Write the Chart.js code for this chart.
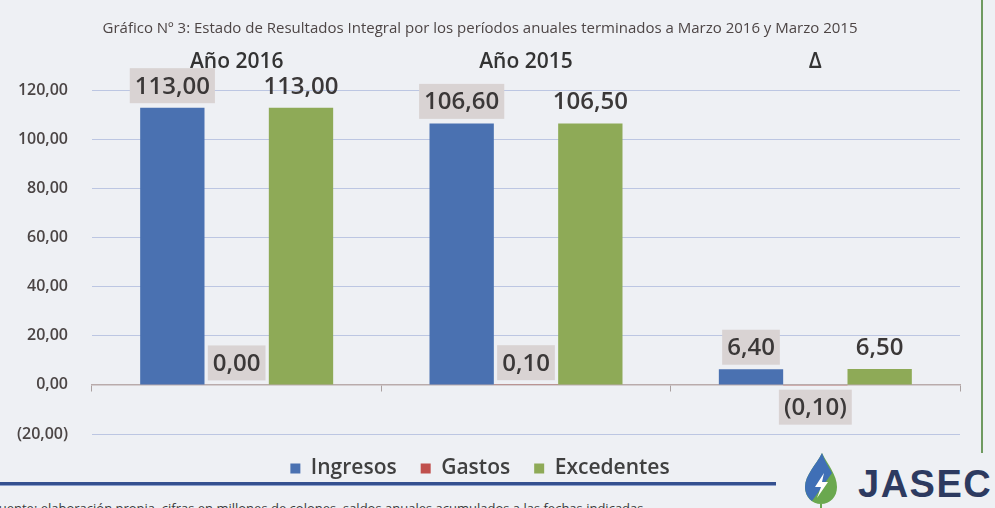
<!DOCTYPE html>
<html>
<head>
<meta charset="utf-8">
<script src="https://cdn.jsdelivr.net/npm/chart.js@4/dist/chart.umd.min.js"></script>
<style>
  html, body { margin: 0; padding: 0; }
  body { width: 995px; height: 508px; overflow: hidden; background: #eef0f4; position: relative; font-family: "Open Sans", sans-serif; }
  #wrap { position: absolute; left: 0; top: 0; width: 995px; height: 508px; }
  canvas { position: absolute; left: 0; top: 0; z-index: 2; }
  .deco { position: absolute; z-index: 1; }
  #blueLine { left: 0; top: 482px; width: 776px; height: 3px; background: #34508f; border-bottom: 1px solid #8da0cc; }
  #greenLine { left: 981px; top: 0; width: 2px; height: 453px; background: #6f9a60; }
  #foot { left: -8px; top: 499px; font-size: 13px; color: #3a3a3a; white-space: nowrap; }
  #logo { left: 802px; top: 451px; width: 38px; height: 57px; }
  #jasec { left: 858px; top: 465px; font-family: "Liberation Sans", Arial, sans-serif; font-weight: bold; font-size: 38px; line-height: 38px; letter-spacing: 1.5px; color: #2d3a60; white-space: nowrap; }
</style>
</head>
<body>
<div id="wrap">
  <canvas id="c" width="995" height="508"></canvas>
  <div class="deco" id="blueLine"></div>
  <div class="deco" id="greenLine"></div>
  <div class="deco" id="foot">Fuente: elaboración propia, cifras en millones de colones, saldos anuales acumulados a las fechas indicadas</div>
  <svg class="deco" id="logo" viewBox="0 0 38 57">
    <path d="M20 2 C14 14 3 24 3 36 C3 46 10 53 19 53 C28 53 35 46 35 36 C35 24 26 14 20 2 Z" fill="#6aa84f"/>
    <path d="M20 2 C14 14 3 24 3 36 C3 42 6 47 10 50 L30 22 C26 15 22 8 20 2 Z" fill="#3f6fb6"/>
    <path d="M22 22 L13 36 L19 36 L15 47 L26 31 L20 31 Z" fill="#ffffff"/>
    <path d="M19 53 L19 57" stroke="#6aa84f" stroke-width="2"/>
  </svg>
  <div class="deco" id="jasec">JASEC</div>
</div>
<script>
const categories = ["Año 2016", "Año 2015", "Δ"];
const ingresos = [113.00, 106.60, 6.40];
const gastos = [0.00, 0.10, -0.10];
const excedentes = [113.00, 106.50, 6.50];
const seriesNames = ["Ingresos", "Gastos", "Excedentes"];
const yTicks = [-20, 0, 20, 40, 60, 80, 100, 120];
const titleText = "Gráfico Nº 3: Estado de Resultados Integral por los períodos anuales terminados a Marzo 2016 y Marzo 2015";

function fmt(v) {
  const s = Math.abs(v).toFixed(2).replace('.', ',');
  return v < 0 ? '(' + s + ')' : s;
}

const valueLabels = {
  id: 'valueLabels',
  afterDatasetsDraw(chart, args, opts) {
    const ctx = chart.ctx;
    chart.data.datasets.forEach((ds, di) => {
      const meta = chart.getDatasetMeta(di);
      meta.data.forEach((bar, i) => {
        const v = ds.data[i];
        const txt = fmt(v);
        ctx.save();
        ctx.font = '600 24px "Open Sans"';
        const w = ctx.measureText(txt).width;
        const cy = v >= 0 ? bar.y - 22 : bar.y + 22;
        if (opts.boxed[di]) {
          ctx.fillStyle = '#d9d3d3';
          ctx.fillRect(bar.x - w / 2 - 5, cy - 17.5, w + 10, 35);
        }
        ctx.fillStyle = '#3b3838';
        ctx.textAlign = 'center';
        ctx.textBaseline = 'middle';
        ctx.fillText(txt, bar.x, cy + 1);
        ctx.restore();
      });
    });
  }
};

new Chart(document.getElementById('c'), {
  type: 'bar',
  data: {
    labels: categories,
    datasets: [
      { label: seriesNames[0], data: ingresos, backgroundColor: '#4a71b1', borderWidth: 0 },
      { label: seriesNames[1], data: gastos, backgroundColor: '#c0504d', borderWidth: 0 },
      { label: seriesNames[2], data: excedentes, backgroundColor: '#8eaa57', borderWidth: 0 }
    ]
  },
  options: {
    responsive: false,
    devicePixelRatio: 1,
    animation: false,
    layout: { padding: { left: 0, right: 35, top: 0, bottom: 19 } },
    datasets: { bar: { barPercentage: 1.0, categoryPercentage: 0.667 } },
    scales: {
      x: {
        position: 'top',
        grid: { display: false },
        border: { display: false },
        ticks: { color: '#333333', font: { family: 'Open Sans', size: 21, weight: '600' }, padding: 8 },
        afterFit(scale) { scale.height = 52.5; }
      },
      x2: {
        type: 'category',
        axis: 'x',
        position: { y: 0 },
        offset: true,
        grid: { offset: true, drawOnChartArea: false, drawTicks: true, tickLength: 6, color: '#aaa0a0' },
        border: { display: true, color: '#b9abab', width: 1.5 },
        ticks: { display: false }
      },
      y: {
        min: -20,
        max: 120,
        afterBuildTicks(scale) { scale.ticks = yTicks.map(v => ({ value: v })); },
        grid: { color: '#bcc6e2', lineWidth: 1, drawTicks: false },
        border: { display: false },
        ticks: {
          color: '#4b4545',
          font: { family: 'Open Sans', size: 16, weight: '600' },
          padding: 24,
          callback: (v) => fmt(v)
        },
        afterFit(scale) { scale.width = 92; }
      }
    },
    plugins: {
      title: {
        display: true,
        text: titleText,
        color: '#4d4545',
        font: { family: 'Open Sans', size: 15, weight: 'normal' },
        padding: { top: 20, bottom: 0 }
      },
      legend: {
        position: 'bottom',
        labels: {
          color: '#404040',
          font: { family: 'Open Sans', size: 21, weight: '600' },
          boxWidth: 10,
          boxHeight: 10,
          padding: 24
        }
      },
      tooltip: { enabled: false },
      valueLabels: { boxed: [true, true, false] }
    }
  },
  plugins: [valueLabels]
});
</script>
</body>
</html>
